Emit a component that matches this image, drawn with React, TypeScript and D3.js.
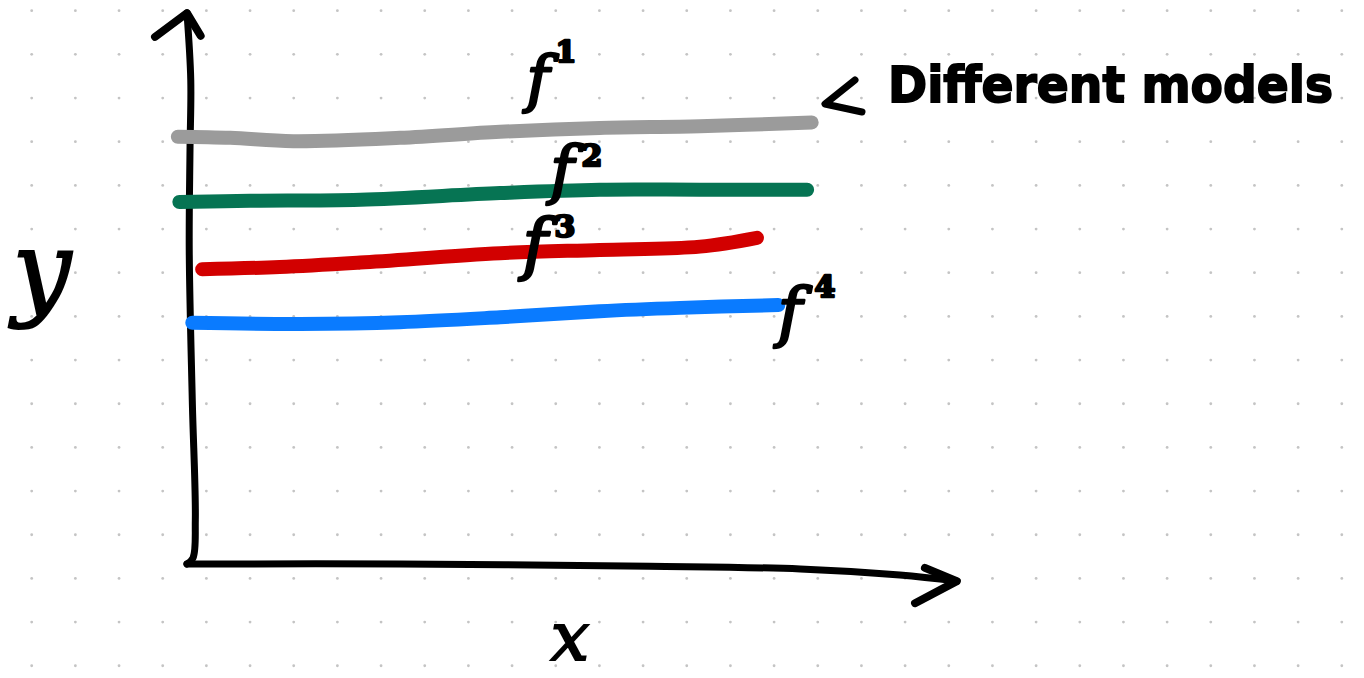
import React from "react";
import * as d3 from "d3";

// Canvas
const W = 1364;
const H = 678;

// Four fitted models: x positions and y values along each sketched curve (0–100 units)
const F1_X = [-1.6, 5.3, 13.6, 27.6, 40.8, 53.9, 67.1, 81.8];
const F1_Y = [77.4, 77.2, 76.6, 77.2, 78.3, 79.0, 79.3, 80.0];

const F2_X = [-1.4, 7.9, 22.4, 40.8, 53.9, 67.1, 81.2];
const F2_Y = [65.6, 65.8, 66.0, 67.2, 67.8, 67.8, 67.8];

const F3_X = [1.6, 11.8, 22.4, 40.8, 53.9, 67.1, 74.6];
const F3_Y = [53.4, 53.8, 54.6, 56.3, 56.9, 57.5, 59.1];

const F4_X = [0.3, 14.5, 27.6, 40.8, 53.9, 64.5, 77.4];
const F4_Y = [43.7, 43.5, 43.8, 44.7, 45.8, 46.4, 46.9];

const MODEL_NAMES = ["f", "f", "f", "f"];
const MODEL_SUPS = ["1", "2", "3", "4"];
const MODEL_COLORS = ["#9b9b9b", "#067453", "#d20000", "#0a7bff"];

const AXIS_LABEL_X = "x";
const AXIS_LABEL_Y = "y";
const NOTE_TEXT = "Different models";

// Hand-drawn axis strokes, in data units
const Y_AXIS_PTS: [number, number][] = [
  [-0.4, 0], [0.4, 1.1], [0.7, 8.0], [0.3, 29.7], [-0.1, 56.9], [0, 75], [0.1, 87.7], [-0.4, 99.8],
];
const Y_ARROW_PTS: [number, number][] = [[-4.6, 95.5], [-0.4, 99.8], [1.4, 95.7]];
const X_AXIS_PTS: [number, number][] = [
  [-0.4, 0], [27.6, 0], [60.5, -0.4], [80.3, -0.9], [93.4, -2.0], [100.9, -3.1],
];
const X_ARROW_PTS: [number, number][] = [[96.7, -0.7], [100.9, -3.1], [95.4, -7.1]];

const xScale = d3.scaleLinear().domain([0, 100]).range([190, 950]);
const yScale = d3.scaleLinear().domain([0, 100]).range([564, 12]);

const smooth = d3
  .line<[number, number]>()
  .x((d) => xScale(d[0]))
  .y((d) => yScale(d[1]))
  .curve(d3.curveCatmullRom.alpha(0.5));

const straight = d3
  .line<[number, number]>()
  .x((d) => xScale(d[0]))
  .y((d) => yScale(d[1]));

const zip = (xs: number[], ys: number[]): [number, number][] => xs.map((x, i) => [x, ys[i]]);

const SERIES = [
  zip(F1_X, F1_Y),
  zip(F2_X, F2_Y),
  zip(F3_X, F3_Y),
  zip(F4_X, F4_Y),
];

// Label placement for each model (pixel anchor of the "f")
const LABEL_POS = [
  { x: 538, y: 100, size: 62, sx: 566, sy: 62 },
  { x: 562, y: 192, size: 64, sx: 592, sy: 166 },
  { x: 535, y: 267, size: 68, sx: 565, sy: 237 },
  { x: 790, y: 334, size: 66, sx: 825, sy: 297 },
];

// Dot-grid paper background
const DOT_STEP = 43.67;
const DOT_X0 = 31.7;
const DOT_Y0 = 10.7;

const ink = "#000";
const handFont = "'DejaVu Serif', serif";

export default function App() {
  const dotsX = d3.range(DOT_X0, W, DOT_STEP);
  const dotsY = d3.range(DOT_Y0, H, DOT_STEP);

  return (
    <svg
      width={W}
      height={H}
      viewBox={`0 0 ${W} ${H}`}
      style={{ position: "absolute", left: 0, top: 0, display: "block", background: "#fff" }}
    >
      <rect width={W} height={H} fill="#fff" />
      <g>
        {dotsY.map((y, j) =>
          dotsX.map((x, i) => <circle key={`${i}-${j}`} cx={x} cy={y} r={1.4} fill="#c4c4c4" />)
        )}
      </g>

      {/* axes */}
      <g fill="none" stroke={ink} strokeLinecap="round" strokeLinejoin="round">
        <path d={smooth(Y_AXIS_PTS) ?? ""} strokeWidth={7} />
        <path d={straight(Y_ARROW_PTS) ?? ""} strokeWidth={8} />
        <path d={smooth(X_AXIS_PTS) ?? ""} strokeWidth={7} />
        <path d={straight(X_ARROW_PTS) ?? ""} strokeWidth={8} />
      </g>

      {/* model curves */}
      <g fill="none" strokeLinecap="round" strokeLinejoin="round">
        {SERIES.map((pts, i) => (
          <path key={i} d={smooth(pts) ?? ""} stroke={MODEL_COLORS[i]} strokeWidth={14} />
        ))}
      </g>

      {/* model labels */}
      <g fill={ink} stroke={ink} strokeWidth={2.5} strokeLinejoin="round" fontFamily={handFont}>
        {LABEL_POS.map((p, i) => (
          <g key={i}>
            <text x={p.x} y={p.y} fontSize={p.size} fontStyle="italic" textAnchor="middle">
              {MODEL_NAMES[i]}
            </text>
            <text x={p.sx} y={p.sy} fontSize={30} fontWeight="bold" textAnchor="middle">
              {MODEL_SUPS[i]}
            </text>
          </g>
        ))}
      </g>

      {/* annotation */}
      <path
        d="M855,80 L825,104 L862,112"
        fill="none"
        stroke={ink}
        strokeWidth={7}
        strokeLinecap="round"
        strokeLinejoin="round"
      />
      <g transform="translate(888,102) scale(1,1.2)">
        <text
          x={0}
          y={0}
          fontSize={42}
          fontFamily="'DejaVu Sans', sans-serif"
          fontWeight="bold"
          fill={ink}
          stroke={ink}
          strokeWidth={1.5}
          textLength={445}
          lengthAdjust="spacingAndGlyphs"
        >
          {NOTE_TEXT}
        </text>
      </g>

      {/* axis titles */}
      <text
        x={42}
        y={306}
        fontSize={104}
        fontFamily={handFont}
        fontStyle="italic"
        textAnchor="middle"
        fill={ink}
        stroke={ink}
        strokeWidth={2}
      >
        {AXIS_LABEL_Y}
      </text>
      <text
        x={570}
        y={660}
        fontSize={68}
        fontFamily={handFont}
        fontStyle="italic"
        textAnchor="middle"
        fill={ink}
        stroke={ink}
        strokeWidth={2}
      >
        {AXIS_LABEL_X}
      </text>
    </svg>
  );
}
